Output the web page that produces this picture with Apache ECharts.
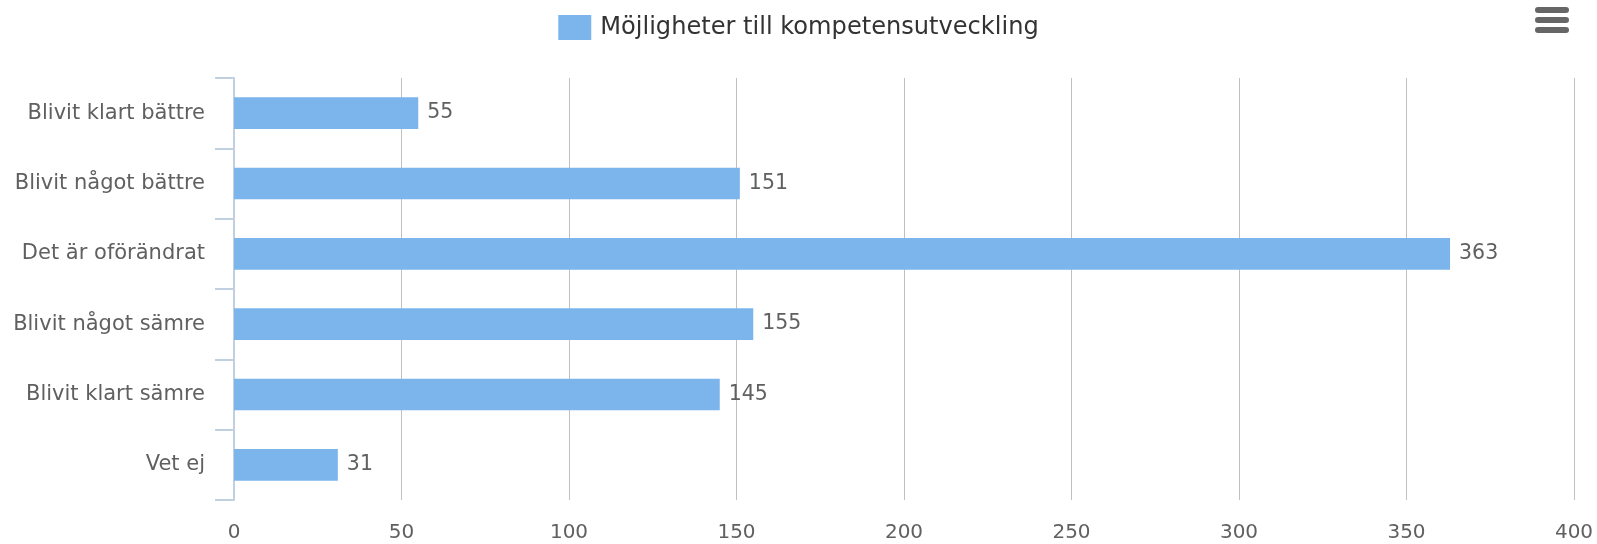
<!DOCTYPE html>
<html>
<head>
<meta charset="utf-8">
<title>Möjligheter till kompetensutveckling</title>
<script src="https://cdn.jsdelivr.net/npm/echarts@6/dist/echarts.min.js"></script>
<style>
  html, body { margin: 0; padding: 0; background: #fff; }
  #chart { width: 1597px; height: 544px; }
</style>
</head>
<body>
<div id="chart"></div>
<script>
var seriesName = 'Möjligheter till kompetensutveckling';
var categories = ['Blivit klart bättre', 'Blivit något bättre', 'Det är oförändrat',
  'Blivit något sämre', 'Blivit klart sämre', 'Vet ej'];
var values = [55, 151, 363, 155, 145, 31];
var xTicks = { min: 0, max: 400, interval: 50 };

var font = 'DejaVu Sans';
var chart = echarts.init(document.getElementById('chart'));

var option = {
  animation: false,
  textStyle: { fontFamily: font },
  legend: {
    data: [seriesName],
    left: 'center',
    top: 10,
    itemWidth: 33,
    itemHeight: 25,
    icon: 'rect',
    textStyle: { fontSize: 24.1, color: '#333', fontFamily: font, padding: [0, 0, 0, 4] }
  },
  // menu icon, top right
  graphic: [{
    type: 'group',
    right: 28,
    top: 7,
    children: [
      { type: 'rect', shape: { x: 0, y: 0, width: 34, height: 6, r: 3 }, style: { fill: '#666' } },
      { type: 'rect', shape: { x: 0, y: 10, width: 34, height: 6, r: 3 }, style: { fill: '#666' } },
      { type: 'rect', shape: { x: 0, y: 20, width: 34, height: 6, r: 3 }, style: { fill: '#666' } }
    ]
  }],
  grid: { left: 234, right: 23, top: 78, bottom: 44, containLabel: false },
  xAxis: {
    type: 'value',
    min: xTicks.min,
    max: xTicks.max,
    interval: xTicks.interval,
    axisLine: { show: false },
    axisTick: { show: false },
    axisLabel: { color: '#606060', fontSize: 20, margin: 23, fontFamily: font },
    splitLine: { show: true, showMinLine: false, lineStyle: { color: '#c0c0c0', width: 1 } }
  },
  yAxis: {
    type: 'category',
    data: categories,
    inverse: true,
    axisLine: { show: true, lineStyle: { color: '#c0d0e0', width: 2 } },
    axisTick: { show: true, length: 19, lineStyle: { color: '#c0d0e0', width: 2 } },
    axisLabel: { color: '#606060', fontSize: 21, margin: 29, fontFamily: font },
    splitLine: { show: false }
  },
  series: [{
    name: seriesName,
    type: 'bar',
    data: values,
    barCategoryGap: '55%',
    itemStyle: { color: '#7cb5ec' },
    label: {
      show: true,
      position: 'right',
      distance: 9,
      color: '#606060',
      fontSize: 20.5,
      fontFamily: font
    }
  }]
};

chart.setOption(option);
</script>
</body>
</html>
